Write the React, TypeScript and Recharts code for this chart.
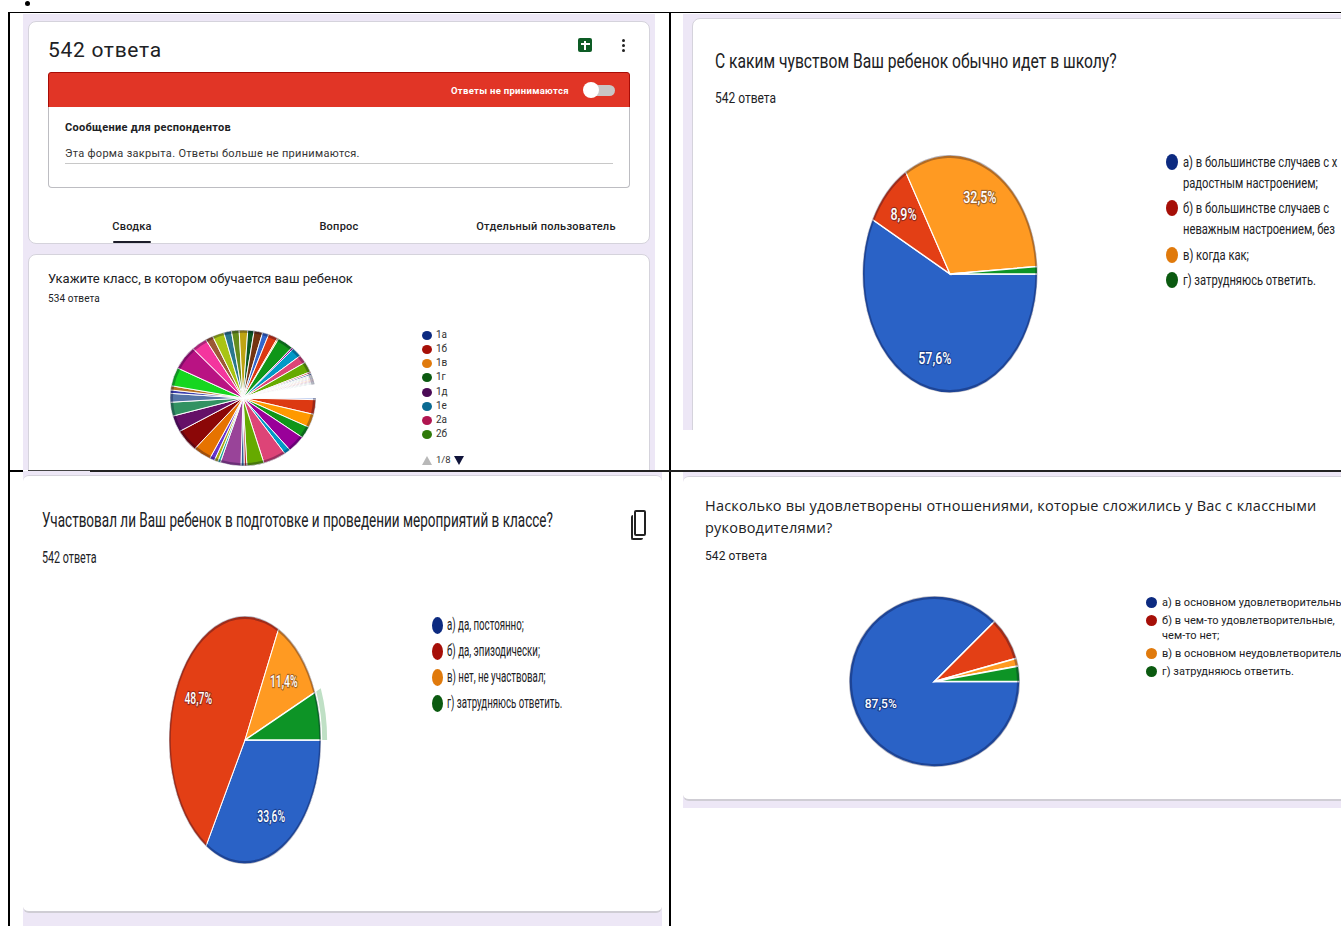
import { PieChart, Pie, Cell } from "recharts"
import type { CSSProperties, ReactNode } from "react"

// google forms palette, slices follow it in order and wrap round
const palette = [
  "#3366cc", "#dc3912", "#ff9900", "#109618", "#990099", "#0099c6", "#dd4477", "#66aa00",
  "#b82e2e", "#316395", "#994499", "#22aa99", "#aaaa11", "#6633cc", "#e67300", "#8b0707",
  "#651067", "#329262", "#5574a6", "#3b3eac", "#b77322", "#16d620", "#b91383", "#f4359e",
  "#9c5935", "#a9c413", "#2a778d", "#668d1c", "#bea413", "#0c5922", "#743411",
]
const mainColors = ["#2a62c6", "#e33f15", "#ff9a22", "#0d9426"]
const legendColors = ["#0c2a80", "#a60f08", "#e07a0c", "#0b5a10"]
const classLegendColors = ["#0c2a80", "#a60f08", "#e07a0c", "#0b5a10", "#4a0a55", "#0a6a92", "#b01550", "#2f7a0a"]

const classLabels = ["1а", "1б", "1в", "1г", "1д", "1е", "2а", "2б"]
const classValues = [
  0.4, 3.5, 3.2, 2.8, 4.0, 1.4, 5.1, 3.8, 0.6, 0.7, 4.6, 0.6, 0.8, 1.1, 4.0, 5.3,
  3.9, 3.3, 2.1, 0.8, 1.0, 4.4, 5.7, 3.5, 1.7, 2.6, 1.7, 1.7, 1.9, 1.4, 1.9,
  1.4, 2.1, 0.3, 3.6, 0.4, 2.2, 1.9, 2.5, 0.4, 0.4,
  0.25, 0.25, 0.25, 0.25, 0.25, 0.25, 0.25, 0.25, 0.25, 0.25, 0.25,
  0.25, 0.25, 0.25, 0.25, 0.25, 0.25, 0.25, 0.25, 0.25, 0.25, 0.25,
]
// the last tiny slices are all stroke in the reference and read as white
const classColors = classValues.map((_, i) => (i >= 50 ? "#ffffff" : palette[i % palette.length]))

const moodLabels = ["а)", "б)", "в)", "г)"]
const moodValues = [57.6, 8.9, 32.5, 1.0]
const partLabels = ["а) да, постоянно;", "б) да, эпизодически;", "в) нет, не участвовал;", "г) затрудняюсь ответить."]
const partValues = [33.6, 48.7, 11.4, 6.3]
const relLabels = ["а)", "б)", "в)", "г)"]
const relValues = [87.5, 8.1, 1.5, 2.9]

const toRows = (names: string[], values: number[]) =>
  values.map((value, i) => ({ name: names[i] ?? String(i), value }))

function T({ x, y, size, sx = 1, weight = 400, color = "#202124", font = "Roboto", spacing = 0, anchor = "left", children }: {
  x: number, y: number, size: number, sx?: number, weight?: number, color?: string, font?: string,
  spacing?: number, anchor?: "left" | "center", children: ReactNode
}) {
  const style: CSSProperties = {
    position: "absolute", left: x, top: y, fontSize: size, fontWeight: weight, color, fontFamily: font,
    letterSpacing: spacing, whiteSpace: "nowrap", lineHeight: 1,
    transform: `translate(${anchor === "center" ? "-50%" : "0"}, -50%) scaleX(${sx})`,
    transformOrigin: anchor === "center" ? "center" : "left center",
  }
  return <div style={style}>{children}</div>
}

function Box({ x, y, w, h, style }: { x: number, y: number, w: number, h: number, style?: CSSProperties }) {
  return <div style={{ position: "absolute", left: x, top: y, width: w, height: h, boxSizing: "border-box", ...style }} />
}

function Marker({ x, y, w, h, color }: { x: number, y: number, w: number, h: number, color: string }) {
  return <Box x={x - w / 2} y={y - h / 2} w={w} h={h} style={{ background: color, borderRadius: "50%" }} />
}

// the reference is a squashed screenshot, so the round pie gets scaled into an ellipse
function SquashedPie({ cx, cy, rx, ry, rows, colors, stroke = 1.5, min = 0, fontSize = 16, labelAt = 0.72, halo }: {
  cx: number, cy: number, rx: number, ry: number, rows: { name: string, value: number }[], colors: string[],
  stroke?: number, min?: number, fontSize?: number, labelAt?: number, halo?: number
}) {
  const R = Math.max(rx, ry)
  const size = 2 * R + 40
  const drawLabel = (p: any) => {
    if (!min || p.value < min) return null
    const a = (-p.midAngle * Math.PI) / 180
    return (
      <text x={p.cx + labelAt * R * Math.cos(a)} y={p.cy + labelAt * R * Math.sin(a)} textAnchor="middle" dominantBaseline="central"
        fill="#fff" fontSize={fontSize} fontFamily="Roboto" fontWeight={500}
        stroke="rgba(0,0,40,0.35)" strokeWidth={2.5} paintOrder="stroke">
        {p.value.toFixed(1).replace(".", ",")}%
      </text>
    )
  }
  return (
    <div style={{
      position: "absolute", left: cx - size / 2, top: cy - size / 2, width: size, height: size,
      transform: `scale(${rx / R}, ${ry / R})`,
    }}>
      <PieChart width={size} height={size} margin={{ top: 0, right: 0, bottom: 0, left: 0 }}>
        {/* darker rim from the sharpened screenshot */}
        <Pie data={rows} dataKey="value" cx="50%" cy="50%" innerRadius={R - 3} outerRadius={R} startAngle={0} endAngle={-360}
          stroke="none" isAnimationActive={false}>
          {rows.map((_, i) => <Cell key={i} fill={colors[i % colors.length] === "#ffffff" ? "transparent" : "rgba(0,0,40,0.3)"} />)}
        </Pie>
        {halo !== undefined && (
          <Pie data={rows} dataKey="value" cx="50%" cy="50%" innerRadius={R + 2} outerRadius={R + 10} startAngle={0} endAngle={-360}
            stroke="none" isAnimationActive={false}>
            {rows.map((_, i) => <Cell key={i} fill={i === halo ? "#bfe0c5" : "transparent"} />)}
          </Pie>
        )}
        <Pie data={rows} dataKey="value" cx="50%" cy="50%" outerRadius={R} startAngle={0} endAngle={-360}
          stroke="#fff" strokeWidth={stroke} label={drawLabel} labelLine={false} isAnimationActive={false}>
          {rows.map((_, i) => <Cell key={i} fill={colors[i % colors.length]} />)}
        </Pie>
        <Pie data={rows} dataKey="value" cx="50%" cy="50%" innerRadius={R - 3} outerRadius={R} startAngle={0} endAngle={-360}
          stroke="none" isAnimationActive={false}>
          {rows.map((_, i) => <Cell key={i} fill={colors[i % colors.length] === "#ffffff" ? "transparent" : "rgba(0,0,40,0.3)"} />)}
        </Pie>
      </PieChart>
    </div>
  )
}

const lavender = "#ede7f6"
const cardLine = "#d5d3dc"

export default function App() {
  return (
    <div style={{ position: "absolute", left: 0, top: 0, width: 1341, height: 926, overflow: "hidden", background: "#fff" }}>
      {/* panel backgrounds */}
      <Box x={23} y={14} w={632} h={456} style={{ background: lavender }} />
      <Box x={28} y={21} w={622} h={223} style={{ background: "#fff", borderRadius: 8, border: `1px solid ${cardLine}` }} />
      <Box x={28} y={254} w={622} h={230} style={{ background: "#fff", borderRadius: 8, border: `1px solid ${cardLine}` }} />
      <Box x={683} y={14} w={658} h={416} style={{ background: lavender }} />
      <Box x={692} y={18} w={660} h={420} style={{ background: "#fff", borderRadius: "8px 0 0 0", border: `1px solid ${cardLine}` }} />
      <Box x={683} y={430} w={658} h={12} style={{ background: "#fff" }} />
      <Box x={23} y={471} w={639} h={455} style={{ background: lavender }} />
      <Box x={23} y={475} w={639} h={438} style={{ background: "#fff", borderRadius: "6px 6px 6px 6px", borderBottom: "2px solid #cfcdd4", borderTop: `1px solid ${cardLine}` }} />
      <Box x={683} y={472} w={658} h={336} style={{ background: lavender }} />
      <Box x={683} y={476} w={658} h={325} style={{ background: "#fff", borderRadius: "6px 0 0 6px", borderBottom: "2px solid #cfcdd4", borderTop: `1px solid ${cardLine}` }} />
      <Box x={28} y={470} w={622} h={1} style={{ background: "#444" }} />

      {/* table lines */}
      <Box x={8} y={12} w={1333} h={1} style={{ background: "#000" }} />
      <Box x={8} y={12} w={2} h={914} style={{ background: "#000" }} />
      <Box x={669} y={12} w={2} h={914} style={{ background: "#000" }} />
      <Box x={8} y={470} w={15} h={1.5} style={{ background: "#000" }} />
      <Box x={90} y={470} w={1251} h={1.5} style={{ background: "#222" }} />
      <Box x={25} y={1} w={5} h={5} style={{ background: "#000", borderRadius: "50%" }} />

      {/* panel 1, form summary */}
      <T x={48} y={50} size={21} spacing={0.7}>542 ответа</T>
      <Box x={578} y={38} w={14} h={14} style={{ background: "#0d5c25", borderRadius: 2 }} />
      <Box x={584} y={41} w={2} h={9} style={{ background: "#fff" }} />
      <Box x={581} y={43} w={9} h={1.5} style={{ background: "#fff" }} />
      {[40, 45, 50].map((y) => <Box key={y} x={622} y={y - 1.5} w={3} h={3} style={{ background: "#222", borderRadius: "50%" }} />)}
      <Box x={48} y={72} w={582} h={36} style={{ background: "#e13526", border: "1px solid #a80c06", borderRadius: "3px 3px 0 0" }} />
      <Box x={48} y={107} w={582} h={81} style={{ background: "#fff", border: "1px solid #bdbdc2", borderTop: "none", borderRadius: "0 0 4px 4px" }} />
      <T x={451} y={91} size={9.5} weight={700} color="#fff" spacing={0.3}>Ответы не принимаются</T>
      <Box x={585} y={85} w={30} h={11} style={{ background: "#c9c6c6", borderRadius: 6 }} />
      <Box x={583} y={82} w={16} h={16} style={{ background: "#fff", borderRadius: "50%" }} />
      <T x={65} y={127} size={11} weight={700} spacing={0.3}>Сообщение для респондентов</T>
      <T x={65} y={153} size={11} color="#333" spacing={0.3}>Эта форма закрыта. Ответы больше не принимаются.</T>
      <Box x={65} y={163} w={548} h={1} style={{ background: "#c8c8c8" }} />
      <T x={132} y={226} size={11} weight={500} anchor="center" spacing={0.25}>Сводка</T>
      <T x={339} y={226} size={11} weight={500} anchor="center" spacing={0.25}>Вопрос</T>
      <T x={546} y={226} size={11} weight={500} anchor="center" spacing={0.25}>Отдельный пользователь</T>
      <Box x={113} y={241} w={38} h={2} style={{ background: "#1c1c2a", borderRadius: 1 }} />
      <T x={48} y={277.5} size={13}>Укажите класс, в котором обучается ваш ребенок</T>
      <T x={48} y={298.5} size={10} spacing={0.1}>534 ответа</T>
      <SquashedPie cx={243} cy={397.5} rx={73} ry={68} rows={toRows([], classValues)} colors={classColors} stroke={1} />
      {classLabels.map((label, i) => {
        const y = [335, 349, 363, 377, 392, 406, 420, 434][i]
        return (
          <div key={label}>
            <Marker x={427} y={y} w={10} h={9} color={classLegendColors[i]} />
            <T x={436} y={y} size={10} color="#333">{label}</T>
          </div>
        )
      })}
      <div style={{ position: "absolute", left: 422, top: 456, width: 0, height: 0, borderLeft: "5px solid transparent", borderRight: "5px solid transparent", borderBottom: "9px solid #b8b8b8" }} />
      <T x={436} y={460} size={9.5} color="#333">1/8</T>
      <div style={{ position: "absolute", left: 454, top: 456, width: 0, height: 0, borderLeft: "5px solid transparent", borderRight: "5px solid transparent", borderTop: "9px solid #10143a" }} />

      {/* panel 2 */}
      <T x={715} y={61} size={21} sx={0.745}>С каким чувством Ваш ребенок обычно идет в школу?</T>
      <T x={715} y={98} size={15} sx={0.8}>542 ответа</T>
      <SquashedPie cx={950} cy={273.5} rx={87.5} ry={119} rows={toRows(moodLabels, moodValues)} colors={mainColors} min={5} fontSize={17} labelAt={0.73} />
      {[162, 208, 255, 280].map((y, i) => <Marker key={y} x={1172} y={y} w={12} h={16} color={legendColors[i]} />)}
      <T x={1183} y={162} size={15} sx={0.746}>а) в большинстве случаев с х</T>
      <T x={1183} y={183} size={15} sx={0.746}>радостным настроением;</T>
      <T x={1183} y={208} size={15} sx={0.746}>б) в большинстве случаев с</T>
      <T x={1183} y={229} size={15} sx={0.746}>неважным настроением, без</T>
      <T x={1183} y={255} size={15} sx={0.746}>в) когда как;</T>
      <T x={1183} y={280} size={15} sx={0.746}>г) затрудняюсь ответить.</T>

      {/* panel 3 */}
      <T x={42} y={520} size={20} sx={0.676}>Участвовал ли Ваш ребенок в подготовке и проведении мероприятий в классе?</T>
      <T x={42} y={558} size={16} sx={0.67}>542 ответа</T>
      <Box x={634} y={510} w={12} h={26} style={{ border: "2px solid #222", borderRadius: 2 }} />
      <Box x={631} y={515} w={12} h={25} style={{ borderLeft: "2px solid #222", borderBottom: "2px solid #222", borderRadius: 2 }} />
      <SquashedPie cx={245} cy={740} rx={76} ry={124} rows={toRows(partLabels, partValues)} colors={mainColors} min={8} fontSize={17} labelAt={0.7} halo={3} />
      {partLabels.map((label, i) => {
        const y = [625, 651, 677, 703][i]
        return (
          <div key={label}>
            <Marker x={437} y={y} w={11} h={17} color={legendColors[i]} />
            <T x={447} y={y} size={16} sx={0.606}>{label}</T>
          </div>
        )
      })}

      {/* panel 4 */}
      <T x={705} y={506} size={14.5} font="Open Sans" spacing={0.2}>Насколько вы удовлетворены отношениями, которые сложились у Вас с классными</T>
      <T x={705} y={528} size={14.5} font="Open Sans" spacing={0.2}>руководителями?</T>
      <T x={705} y={555.5} size={12} spacing={0.1}>542 ответа</T>
      <SquashedPie cx={934.5} cy={681.5} rx={85.5} ry={85.5} rows={toRows(relLabels, relValues)} colors={mainColors} min={10} fontSize={12} labelAt={0.68} />
      {[602, 620, 653, 671].map((y, i) => <Marker key={y} x={1151} y={y} w={11} h={11} color={legendColors[i]} />)}
      <T x={1162} y={601.5} size={11} spacing={0.05}>а) в основном удовлетворительнь</T>
      <T x={1162} y={619.5} size={11} spacing={0.05}>б) в чем-то удовлетворительные,</T>
      <T x={1162} y={634.5} size={11} spacing={0.05}>чем-то нет;</T>
      <T x={1162} y={652.5} size={11} spacing={0.05}>в) в основном неудовлетворитель</T>
      <T x={1162} y={670.5} size={11} spacing={0.05}>г) затрудняюсь ответить.</T>
    </div>
  )
}
